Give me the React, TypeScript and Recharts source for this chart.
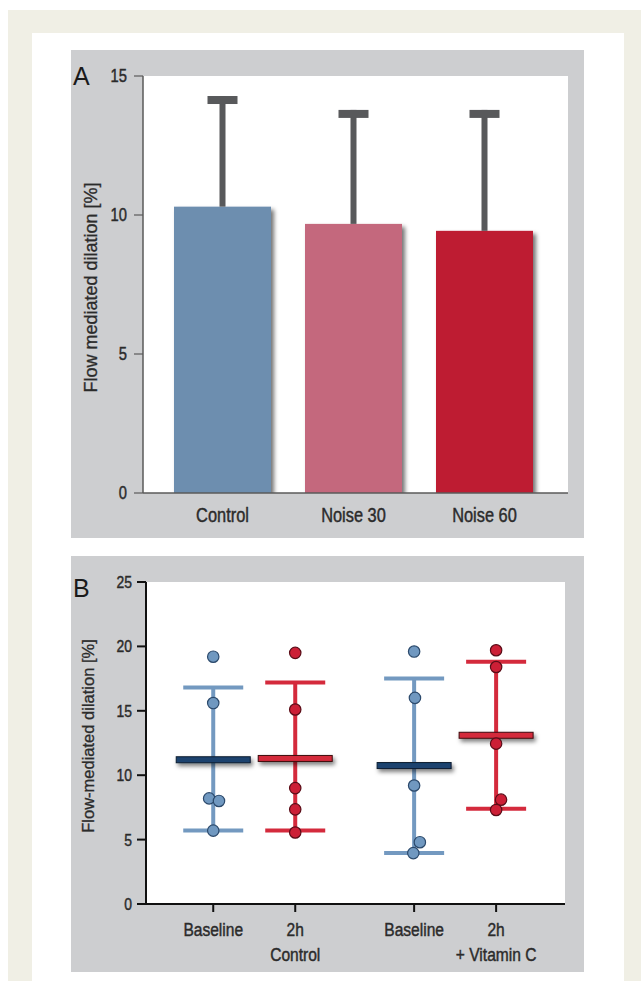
import React from "react";
import {
  BarChart,
  Bar,
  XAxis,
  YAxis,
  CartesianGrid,
  ComposedChart,
  Scatter,
  ErrorBar,
} from "recharts";

// ---------- Data: panel A ----------
const groupsA = ["Control", "Noise 30", "Noise 60"];
const meanA = [10.3, 9.68, 9.43];
const sdA = [3.98, 4.1, 4.35];
const ticksA = [0, 5, 10, 15];

// ---------- Data: panel B ----------
const labelsB = [["Baseline"], ["2h", "Control"], ["Baseline"], ["2h", "+ Vitamin C"]];
const conditionB = ["baseline", "2h", "baseline", "2h"];
const meanB = [11.2, 11.3, 10.75, 13.1];
const sdLowB = [5.7, 5.7, 3.95, 7.4];
const sdHighB = [16.8, 17.2, 17.5, 18.8];
const ptsBaselineCtrl = [19.2, 15.6, 8.2, 8.0, 5.7];
const pts2hCtrl = [19.5, 15.1, 9.0, 7.35, 5.55];
const ptsBaselineVitC = [19.6, 16.0, 9.2, 4.8, 3.95];
const pts2hVitC = [19.7, 18.4, 12.45, 8.1, 7.3];
const jitterB = [
  [0, 0, -0.05, 0.07, 0],
  [0, 0, 0, 0, 0],
  [0, 0.01, 0, 0.07, -0.01],
  [0, 0, 0, 0.06, 0],
];
const ticksB = [0, 5, 10, 15, 20, 25];

// ---------- Layout / style constants ----------
const xSlot = [1, 2, 3.45, 4.45];
const FONT = '"Liberation Sans", Arial, Helvetica, sans-serif';
const NARROW = 0.82;
const TEXT = "#2B2B2B";
const EMB = 0.45;
const colorsA = ["#6D8EAF", "#C4687D", "#BE1E30"];
const ERR_A = "#58595B";
const BLUE_PT = "#7098C0";
const BLUE_PT_EDGE = "#2C4A6C";
const RED_PT = "#CC1F36";
const RED_PT_EDGE = "#5A0C17";
const BLUE_SD = "#7399C0";
const RED_SD = "#D42A3C";
const BLUE_MEAN = "#1B426E";
const RED_MEAN = "#D4293B";

const dataA = groupsA.map((g, i) => ({ name: g, mean: meanA[i], sd: sdA[i] }));

const ptsAll = [ptsBaselineCtrl, pts2hCtrl, ptsBaselineVitC, pts2hVitC];
const pointsFor = (cond: string) =>
  ptsAll.flatMap((arr, i) =>
    conditionB[i] === cond ? arr.map((v, j) => ({ x: xSlot[i] + jitterB[i][j], y: v })) : []
  );
const meansFor = (cond: string) =>
  meanB
    .map((m, i) => ({ x: xSlot[i], y: m, err: [m - sdLowB[i], sdHighB[i] - m], cond: conditionB[i] }))
    .filter((d) => d.cond === cond);

const BarShadow = (props: any) => {
  const { x, y, width, height, index } = props;
  const id = `barShadow${index}`;
  return (
    <g>
      <defs>
        <filter id={id} x="-20%" y="-20%" width="150%" height="150%">
          <feDropShadow dx="3" dy="3" stdDeviation="2" floodColor="#000" floodOpacity="0.55" />
        </filter>
      </defs>
      <rect x={x} y={y} width={width} height={height} fill={colorsA[index]} filter={`url(#${id})`} />
    </g>
  );
};

const ErrShapeA = (props: any) => {
  const { x, y, width, height } = props;
  const cx = x + width / 2;
  return (
    <g>
      <rect x={cx - 3} y={y} width={6} height={height} fill={ERR_A} />
      <rect x={cx - 15} y={y} width={30} height={8} fill={ERR_A} />
    </g>
  );
};

const TickA = (props: any) => {
  const { x, y, payload } = props;
  return (
    <text
      transform={`translate(${x},${y}) scale(${NARROW},1)`}
      dy="0.71em"
      textAnchor="middle"
      fontSize={20}
      fontFamily={FONT}
      fill={TEXT}
      stroke={TEXT}
      strokeWidth={EMB}
    >
      {payload.value}
    </text>
  );
};

const TickB = (props: any) => {
  const { x, y, payload } = props;
  const idx = xSlot.indexOf(payload.value);
  const lines = labelsB[idx] || [];
  return (
    <text
      transform={`translate(${x},${y}) scale(${NARROW},1)`}
      textAnchor="middle"
      fontSize={19}
      fontFamily={FONT}
      fill={TEXT}
      stroke={TEXT}
      strokeWidth={EMB}
    >
      {lines.map((l, i) => (
        <tspan key={i} x={0} y={i * 25} dy="0.71em">
          {l}
        </tspan>
      ))}
    </text>
  );
};

const makeYTick = (size: number) => (props: any) => {
  const { x, y, payload } = props;
  return (
    <text
      transform={`translate(${x},${y}) scale(${NARROW},1)`}
      dy="0.355em"
      textAnchor="end"
      fontSize={size}
      fontFamily={FONT}
      fill={TEXT}
      stroke={TEXT}
      strokeWidth={EMB}
    >
      {payload.value}
    </text>
  );
};

const makeYLabel = (text: string, size: number, dxCenter: number, dyShift: number) => (props: any) => {
  const vb = props.viewBox;
  if (!vb) return null;
  const cx = vb.x + dxCenter;
  const cy = vb.y + vb.height / 2 + dyShift;
  return (
    <text
      transform={`translate(${cx},${cy}) rotate(-90)`}
      dy="0.355em"
      textAnchor="middle"
      fontSize={size}
      fontFamily={FONT}
      fill={TEXT}
      stroke={TEXT}
      strokeWidth={0.3}
    >
      {text}
    </text>
  );
};

const makeMeanShape = (fill: string, edge: string, key: string) => (props: any) => {
  const { cx, cy, index } = props;
  const id = `meanSh_${key}_${index}`;
  return (
    <g>
      <defs>
        <filter id={id} x="-20%" y="-100%" width="140%" height="400%">
          <feDropShadow dx="2" dy="3" stdDeviation="2" floodColor="#000" floodOpacity="0.5" />
        </filter>
      </defs>
      <rect x={cx - 37} y={cy - 3} width={74} height={6} fill={fill} stroke={edge} strokeWidth={1} filter={`url(#${id})`} />
    </g>
  );
};

const makePointShape = (fill: string, edge: string) => (props: any) => {
  const { cx, cy } = props;
  return <circle cx={cx} cy={cy} r={5.7} fill={fill} stroke={edge} strokeWidth={1.2} />;
};

const abs = (left: number, top: number, width: number, height: number, bg?: string): React.CSSProperties => ({
  position: "absolute",
  left,
  top,
  width,
  height,
  background: bg,
});

export default function App() {
  return (
    <div style={abs(0, 0, 641, 981)}>
      <div style={abs(8, 10, 633, 971, "#F0EFE5")} />
      <div style={abs(32, 33, 592, 948, "#FFFFFF")} />
      <div style={abs(71, 50, 513, 488, "#CDCED0")} />
      <div style={abs(71, 556, 513, 416, "#CDCED0")} />

      {/* Panel A */}
      <div style={abs(71, 50, 513, 488)}>
        <BarChart
          width={513}
          height={488}
          data={dataA}
          margin={{ top: 26, right: 16, bottom: 0, left: 0 }}
          barSize={97}
        >
          <CartesianGrid horizontal={false} vertical={false} fill="#FFFFFF" stroke="none" />
          <XAxis
            dataKey="name"
            height={45}
            padding={{ left: 14, right: 18 }}
            axisLine={{ stroke: "#5A5A5A", strokeWidth: 1.5 }}
            tickLine={false}
            tickSize={0}
            tickMargin={15}
            tick={TickA}
            interval={0}
          />
          <YAxis
            width={72}
            domain={[0, 15]}
            ticks={ticksA}
            allowDataOverflow
            axisLine={{ stroke: "#5A5A5A", strokeWidth: 1.5 }}
            tickLine={{ stroke: "#5A5A5A", strokeWidth: 1.2 }}
            tickSize={9}
            tickMargin={7}
            tick={makeYTick(18)}
            label={{ content: makeYLabel("Flow mediated dilation [%]", 18, 20, 3) }}
          />
          <Bar dataKey="mean" stackId="a" shape={BarShadow} isAnimationActive={false} />
          <Bar dataKey="sd" stackId="a" shape={ErrShapeA} isAnimationActive={false} />
        </BarChart>
      </div>

      {/* Panel B */}
      <div style={abs(71, 556, 513, 416)}>
        <ComposedChart width={513} height={416} margin={{ top: 26, right: 19, bottom: 0, left: 0 }}>
          <CartesianGrid horizontal={false} vertical={false} fill="#FFFFFF" stroke="none" />
          <XAxis
            type="number"
            dataKey="x"
            domain={[0.18, 5.29]}
            ticks={xSlot}
            allowDataOverflow
            interval={0}
            height={68}
            axisLine={{ stroke: "#111", strokeWidth: 2 }}
            tickLine={{ stroke: "#111", strokeWidth: 2 }}
            tickSize={8}
            tickMargin={11}
            tick={TickB}
          />
          <YAxis
            type="number"
            dataKey="y"
            width={75}
            domain={[0, 25]}
            ticks={ticksB}
            allowDataOverflow
            axisLine={{ stroke: "#111", strokeWidth: 2 }}
            tickLine={{ stroke: "#111", strokeWidth: 2 }}
            tickSize={9}
            tickMargin={5}
            tick={makeYTick(17)}
            label={{ content: makeYLabel("Flow-mediated dilation [%]", 16.5, 17, -7) }}
          />
          <Scatter
            data={meansFor("baseline")}
            shape={makeMeanShape(BLUE_MEAN, "#0A1C30", "b")}
            isAnimationActive={false}
          >
            <ErrorBar dataKey="err" direction="y" width={30} strokeWidth={4} stroke={BLUE_SD} />
          </Scatter>
          <Scatter
            data={meansFor("2h")}
            shape={makeMeanShape(RED_MEAN, "#3D0A10", "r")}
            isAnimationActive={false}
          >
            <ErrorBar dataKey="err" direction="y" width={30} strokeWidth={4} stroke={RED_SD} />
          </Scatter>
          <Scatter data={pointsFor("baseline")} shape={makePointShape(BLUE_PT, BLUE_PT_EDGE)} isAnimationActive={false} />
          <Scatter data={pointsFor("2h")} shape={makePointShape(RED_PT, RED_PT_EDGE)} isAnimationActive={false} />
        </ComposedChart>
      </div>

      <svg style={{ position: "absolute", left: 0, top: 0, pointerEvents: "none" }} width={641} height={981}>
        <text x={73} y={85} fontSize={25} fontFamily={FONT} fill="#1A1A1A">
          A
        </text>
        <text x={73} y={597} fontSize={25} fontFamily={FONT} fill="#1A1A1A">
          B
        </text>
      </svg>
    </div>
  );
}
